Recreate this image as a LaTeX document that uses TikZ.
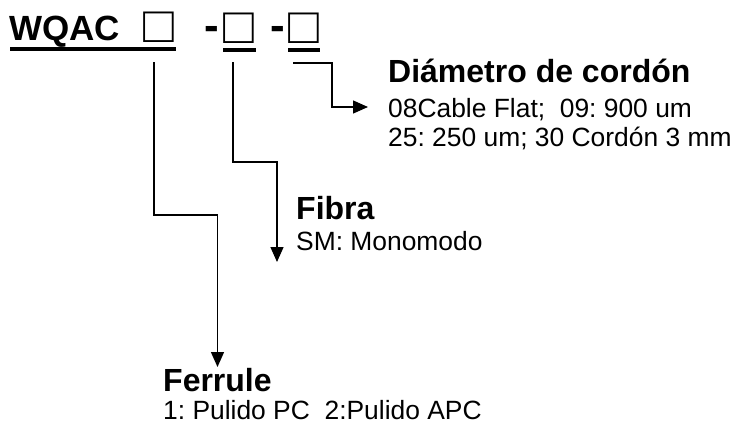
\documentclass[tikz,border=0pt]{standalone}
\usepackage{fontspec}
\setmainfont{Liberation Sans}
\frenchspacing
\usetikzlibrary{arrows.meta}
\begin{document}
\begin{tikzpicture}[x=1pt,y=-1pt,
  titletext/.style={inner sep=0pt,anchor=base west,font=\fontsize{35}{35}\selectfont\bfseries},
  dashglyph/.style={inner sep=0pt,anchor=base,font=\fontsize{44}{44}\selectfont\bfseries},
  boxglyph/.style={inner sep=0pt,anchor=base,font=\fontsize{51}{51}\selectfont},
  headtext/.style={inner sep=0pt,anchor=base west,font=\fontsize{32}{32}\selectfont\bfseries},
  bodytext/.style={inner sep=0pt,anchor=base west,font=\fontsize{26.4}{29}\selectfont},
  uline/.style={line width=3.5pt},
  conn/.style={line width=1.4pt},
  arr/.style={conn,-{Triangle[length=15pt,width=13pt]}}
]
\useasboundingbox (0,0) rectangle (739,423);
% code line
\node[titletext] (code) at (9,40.5) {WQAC};
\node[boxglyph] (b1) at (158.5,42) {□};
\node[dashglyph] (d1) at (211.5,40.5) {-};
\node[boxglyph] (b2) at (239,43) {□};
\node[dashglyph] (d2) at (278,40.5) {-};
\node[boxglyph] (b3) at (304,43) {□};
% underlines
\draw[uline] (10,49) -- (176,49);
\draw[uline] (223,50) -- (256,50);
\draw[uline] (288,50) -- (320,50);
% texts
\node[headtext] (dh) at (388,82) {Diámetro de cordón};
\node[bodytext] (dl1) at (388,117) {08Cable Flat;\ \ 09: 900 um};
\node[bodytext] (dl2) at (388,146) {25: 250 um; 30 Cordón 3 mm};
\node[headtext] (fh) at (296,219) {Fibra};
\node[bodytext] (fl1) at (296,250) {SM: Monomodo};
\node[headtext] (rh) at (163,391) {Ferrule};
\node[bodytext] (rl1) at (163,419.5) {1: Pulido PC\ \ 2:Pulido APC};
% connector points
\coordinate (s1) at (154,62);
\coordinate (m1) at (217.5,215);
\coordinate (t1) at (217.5,367);
\coordinate (s2) at (233,62);
\coordinate (m2) at (277,162);
\coordinate (t2) at (277,262);
\coordinate (s3) at (293,63);
\coordinate (m3) at (332,107);
\coordinate (t3) at (368,107);
\draw[arr] (s1) |- (m1) -- (t1);
\draw[arr] (s2) |- (m2) -- (t2);
\draw[arr] (s3) -| (m3) -- (t3);
\end{tikzpicture}
\end{document}
